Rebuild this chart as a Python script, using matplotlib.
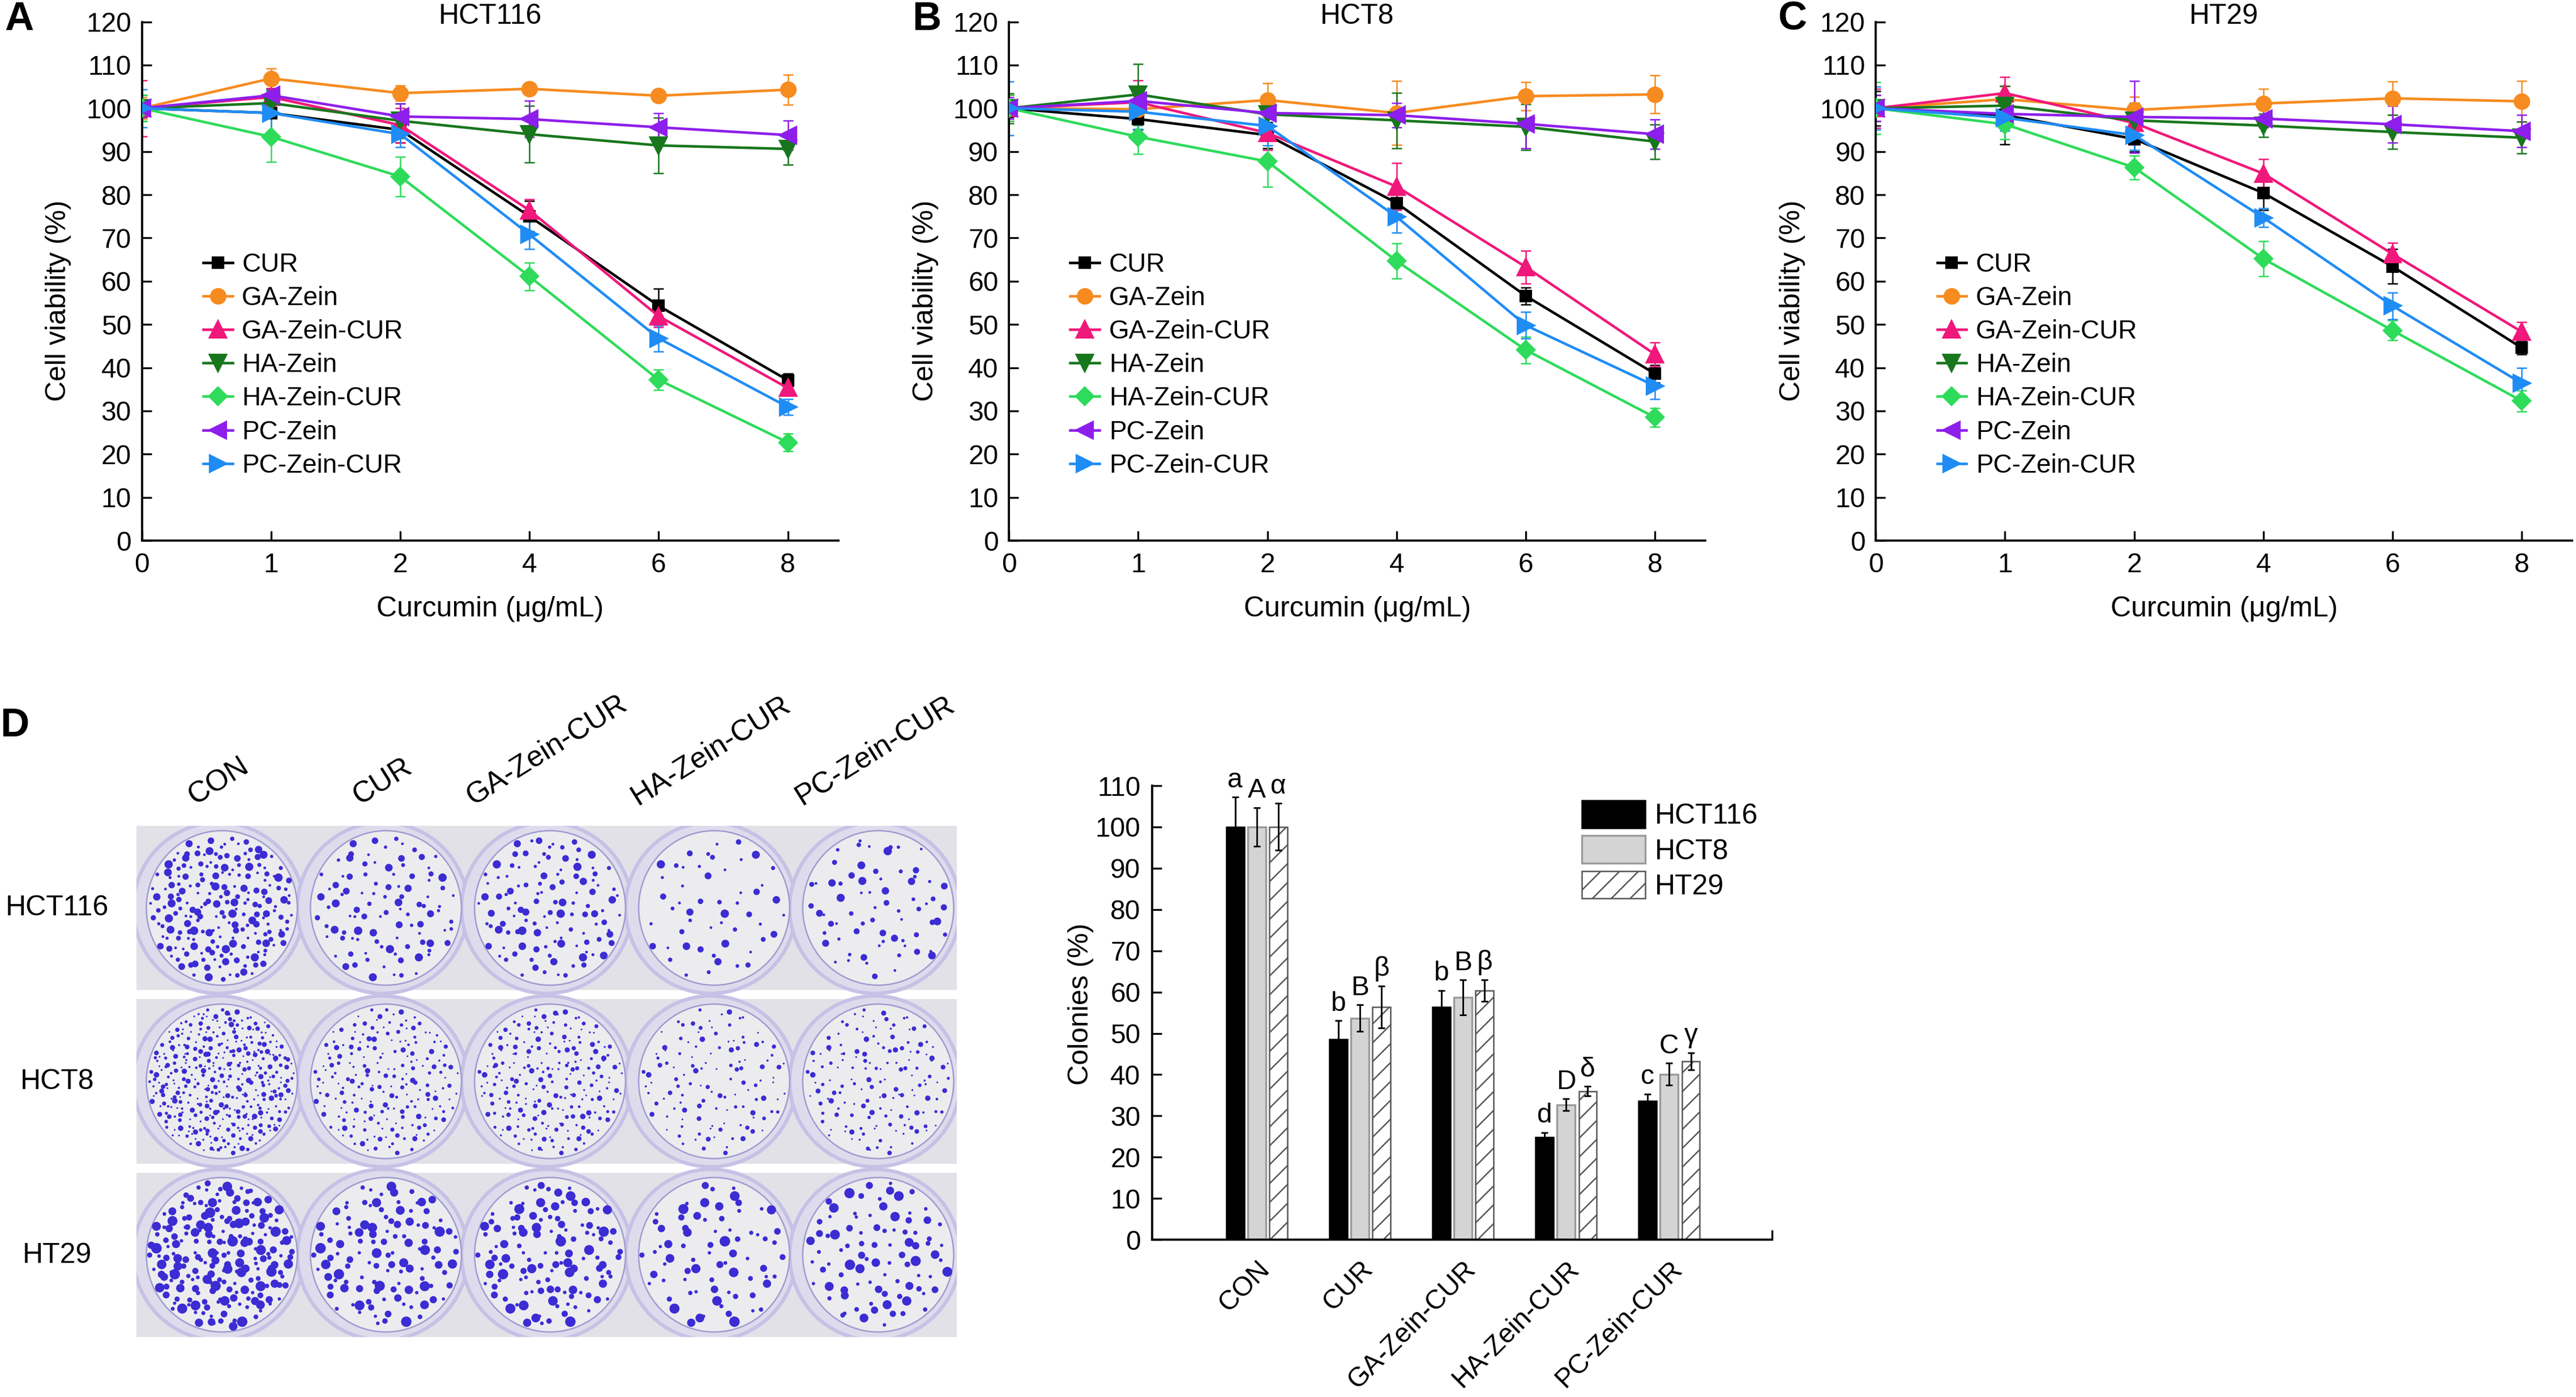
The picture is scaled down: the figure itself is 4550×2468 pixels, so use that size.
import matplotlib
matplotlib.use('Agg')
import matplotlib.pyplot as plt
import numpy as np
from matplotlib.patches import Rectangle, Ellipse
from matplotlib.transforms import ScaledTranslation

plt.rcParams['font.family'] = ['Liberation Sans', 'DejaVu Sans']
plt.rcParams['hatch.linewidth'] = 0.6

# ---- data: cell viability (panels A-C) ----
doses = ['0', '1', '2', '4', '6', '8']
series_names = ['CUR', 'GA-Zein', 'GA-Zein-CUR', 'HA-Zein', 'HA-Zein-CUR', 'PC-Zein', 'PC-Zein-CUR']
series_colors = ['#000000', '#F68B1F', '#F0187A', '#18761C', '#2EDB5A', '#8E1EEB', '#1F8CF5']
series_markers = ['s', 'o', '^', 'v', 'D', '<', '>']
series_msize = [4.5, 6.0, 6.5, 6.5, 5.0, 6.5, 6.5]

hct116_vals = [[100, 98.9, 95.0, 75.0, 54.3, 37.1],
               [100, 106.9, 103.5, 104.5, 102.9, 104.3],
               [100, 102.6, 96.1, 76.4, 51.9, 35.3],
               [100, 101.2, 97.1, 94.0, 91.4, 90.6],
               [100, 93.4, 84.2, 61.1, 37.2, 22.7],
               [100, 103.0, 98.1, 97.5, 95.6, 93.8],
               [100, 98.9, 94.0, 70.8, 46.8, 30.9]]
hct116_err = [[2.0, 1.0, 3.0, 3.5, 4.0, 1.5],
              [2.5, 2.3, 1.8, 1.3, 1.0, 3.5],
              [6.5, 2.0, 4.0, 2.5, 2.5, 1.5],
              [3.0, 3.0, 4.0, 6.5, 6.4, 3.7],
              [3.0, 5.8, 4.6, 3.2, 2.3, 2.0],
              [2.0, 1.5, 3.0, 4.2, 3.2, 3.4],
              [4.4, 5.0, 3.0, 3.3, 3.0, 1.8]]

hct8_vals = [[100, 97.5, 93.8, 78.1, 56.6, 38.6],
             [100, 99.8, 101.9, 98.9, 102.8, 103.2],
             [100, 101.4, 94.3, 81.9, 63.3, 43.1],
             [100, 103.2, 98.6, 97.2, 95.7, 92.3],
             [100, 93.4, 87.7, 64.7, 44.1, 28.5],
             [100, 101.7, 98.9, 98.4, 96.4, 94.0],
             [100, 99.2, 95.9, 74.9, 49.8, 35.8]]
hct8_err = [[2.0, 2.5, 3.0, 2.5, 2.0, 2.0],
            [3.0, 3.0, 3.9, 7.4, 3.3, 4.4],
            [3.0, 5.0, 4.0, 5.4, 3.8, 2.8],
            [3.5, 7.1, 4.0, 6.4, 5.3, 4.0],
            [3.0, 4.0, 5.9, 4.1, 3.1, 2.2],
            [2.5, 3.0, 2.5, 2.8, 5.7, 3.4],
            [6.2, 4.0, 4.5, 3.7, 3.1, 3.1]]

ht29_vals = [[100, 98.4, 92.9, 80.4, 63.4, 44.6],
             [100, 102.1, 99.6, 101.1, 102.3, 101.6],
             [100, 103.5, 96.6, 84.9, 66.3, 48.3],
             [100, 100.6, 97.2, 96.0, 94.5, 93.2],
             [100, 96.3, 86.3, 65.2, 48.6, 32.3],
             [100, 98.7, 98.0, 97.6, 96.3, 94.7],
             [100, 97.8, 93.8, 74.7, 54.3, 36.4]]
ht29_err = [[4.0, 6.7, 3.0, 3.9, 4.0, 1.5],
            [3.0, 3.0, 3.0, 3.4, 3.9, 4.7],
            [4.5, 3.8, 3.5, 3.4, 2.6, 2.3],
            [3.0, 4.5, 4.0, 2.7, 3.9, 3.7],
            [6.0, 3.4, 2.8, 4.1, 2.3, 2.4],
            [3.0, 3.0, 8.3, 2.0, 4.2, 3.7],
            [5.0, 3.0, 3.5, 2.2, 3.1, 3.6]]

# ---- data: colony formation (panel D) ----
treatments = ['CON', 'CUR', 'GA-Zein-CUR', 'HA-Zein-CUR', 'PC-Zein-CUR']
cell_lines = ['HCT116', 'HCT8', 'HT29']
colony_hct116 = [100, 48.5, 56.4, 24.9, 33.6]
colony_hct116_err = [7.2, 4.6, 4.0, 1.1, 1.7]
colony_hct8 = [100, 53.7, 58.7, 32.7, 40.1]
colony_hct8_err = [4.7, 3.2, 4.2, 1.4, 2.7]
colony_ht29 = [100, 56.4, 60.4, 36.0, 43.2]
colony_ht29_err = [5.7, 5.1, 2.6, 1.2, 2.1]
letters_hct116 = ['a', 'b', 'b', 'd', 'c']
letters_hct8 = ['A', 'B', 'B', 'D', 'C']
letters_ht29 = ['α', 'β', 'β', 'δ', 'γ']


fig = plt.figure(figsize=(4550 / 300, 2468 / 300), dpi=300)


def viability_panel(left, title, vals, errs):
    ax = fig.add_axes([left, 0.613, 0.2703, 0.3714])
    xpos = np.arange(len(doses))
    for k in range(len(series_names)):
        ax.errorbar(xpos, vals[k], yerr=errs[k], fmt='none', ecolor=series_colors[k],
                    elinewidth=0.6, capsize=2.2, capthick=0.6, zorder=2)
    for k in range(len(series_names)):
        ax.plot(xpos, vals[k], color=series_colors[k], marker=series_markers[k],
                markersize=series_msize[k], lw=1.1, label=series_names[k], zorder=3)
    ax.set_xlim(0, 5.39)
    ax.set_ylim(0, 120)
    ax.set_xticks(xpos)
    ax.set_xticklabels(doses)
    ax.set_yticks(np.arange(0, 121, 10))
    ax.tick_params(direction='in', length=4, width=0.8, labelsize=11.5)
    ax.tick_params(axis='x', pad=5)
    ax.tick_params(axis='y', pad=4.5)
    for s in ['top', 'right']:
        ax.spines[s].set_visible(False)
    for s in ['left', 'bottom']:
        ax.spines[s].set_linewidth(0.9)
    ax.set_xlabel('Curcumin (μg/mL)', fontsize=12)
    ax.xaxis.set_label_coords(0.5, -0.107)
    ax.set_ylabel('Cell viability (%)', fontsize=12)
    ax.yaxis.set_label_coords(-0.101, 0.463)
    ax.text(0.5, 1.01, title, transform=ax.transAxes, ha='center', va='center', fontsize=12)
    ax.legend(loc='center left', bbox_to_anchor=(0.088, 0.338), frameon=False, fontsize=11,
              handlelength=1.13, handletextpad=0.36, labelspacing=0.33, borderpad=0,
              borderaxespad=0)
    return ax


viability_panel(0.0551, 'HCT116', hct116_vals, hct116_err)
viability_panel(0.3917, 'HCT8', hct8_vals, hct8_err)
viability_panel(0.7282, 'HT29', ht29_vals, ht29_err)

for lab, xx, yy in [('A', 0.0075, 0.986), ('B', 0.3598, 0.986), ('C', 0.6958, 0.986), ('D', 0.0057, 0.48)]:
    fig.text(xx, yy, lab, fontsize=17, fontweight='bold', ha='center', va='center')


# ---- colony dishes: drawn stand-in for the photos, colony count follows the bar values ----
def halton(n, base, start):
    out = np.zeros(n)
    for j in range(n):
        k = j + start
        f = 1.0
        v = 0.0
        while k > 0:
            f /= base
            v += f * (k % base)
            k //= base
        out[j] = v
    return out


colony_rows = [colony_hct116, colony_hct8, colony_ht29]
base_count = [210, 380, 210]
max_size = [13, 5.5, 20]
gap = 0.055
ax_ph = fig.add_axes([0.053, 0.043, 0.3185, 0.3659])
ax_ph.set_xlim(0, 5)
ax_ph.set_ylim(0, 3 + 2 * gap)
ax_ph.axis('off')
for r in range(3):
    y0 = (2 - r) * (1 + gap)
    for c in range(5):
        cell = Rectangle((c, y0), 1, 1, fc='#e2e1e8', ec='none', zorder=1)
        ax_ph.add_patch(cell)
        ax_ph.add_patch(Ellipse((c + 0.5, y0 + 0.5), 1.04, 1.04, fc='#dedbec', ec='#c6c1e5',
                                lw=1.5, zorder=2, clip_path=cell))
        ax_ph.add_patch(Ellipse((c + 0.52, y0 + 0.5), 0.92, 0.94, fc='#ececef', ec='#a09ad0',
                                lw=0.6, zorder=3, clip_path=cell))
        n = int(base_count[r] * colony_rows[r][c] / 100)
        st = 17 + 53 * c + 211 * r
        u = halton(n, 2, st)
        v = halton(n, 3, st)
        w = halton(n, 5, st)
        rr = 0.445 * np.sqrt(u)
        th = 2 * np.pi * v
        px = c + 0.52 + rr * np.cos(th)
        py = y0 + 0.5 + rr * np.sin(th)
        sz = max_size[r] * (0.1 + 0.9 * w ** 2.5)
        sc = ax_ph.scatter(px, py, s=sz, c='#3c2cd3', edgecolors='none', zorder=4)
        sc.set_clip_path(cell)

for c, name in enumerate(treatments):
    fig.text((241 + 290 * (c + 0.5)) / 4550, 1 - 1432 / 2468, name, rotation=32,
             ha='center', va='bottom', fontsize=12.5)
for r, name in enumerate(cell_lines):
    yc = 1459 + 145 + r * 307
    fig.text(101 / 4550, 1 - yc / 2468, name, ha='center', va='center', fontsize=12)

# ---- colony bar chart ----
ax_b = fig.add_axes([0.4473, 0.1126, 0.2407, 0.325])
xg = np.arange(len(treatments))
w = 0.175
b1 = ax_b.bar(xg - 0.21, colony_hct116, w, color='black', edgecolor='black', lw=0.6, label='HCT116')
b2 = ax_b.bar(xg, colony_hct8, w, color='#d4d4d4', edgecolor='#9a9a9a', lw=0.8, label='HCT8')
b3 = ax_b.bar(xg + 0.21, colony_ht29, w, color='white', edgecolor='#555555', lw=0.6,
              hatch='///', label='HT29')
for off, vals, errs, lets in [(-0.21, colony_hct116, colony_hct116_err, letters_hct116),
                              (0.0, colony_hct8, colony_hct8_err, letters_hct8),
                              (0.21, colony_ht29, colony_ht29_err, letters_ht29)]:
    ax_b.errorbar(xg + off, vals, yerr=errs, fmt='none', ecolor='black', elinewidth=0.7,
                  capsize=1.5, capthick=0.7)
    for xi, v, e, t in zip(xg + off, vals, errs, lets):
        ax_b.text(xi, v + e + 1.0, t, ha='center', va='bottom', fontsize=11.5, clip_on=False)
ax_b.set_xlim(-1.015, 5.0)
ax_b.set_ylim(0, 110)
ax_b.set_yticks(np.arange(0, 111, 10))
ax_b.set_xticks(xg)
ax_b.set_xticklabels(treatments, rotation=45, ha='right', rotation_mode='anchor', fontsize=11.5)
for lab in ax_b.get_xticklabels():
    lab.set_transform(lab.get_transform() + ScaledTranslation(4 / 72, 0, fig.dpi_scale_trans))
ax_b.tick_params(axis='x', length=0, pad=7)
ax_b.set_xticks([5.0], minor=True)
ax_b.tick_params(axis='x', which='minor', direction='in', length=4, width=0.8)
ax_b.tick_params(axis='y', direction='in', length=4, width=0.8, labelsize=11.5, pad=5)
for s in ['top', 'right']:
    ax_b.spines[s].set_visible(False)
for s in ['left', 'bottom']:
    ax_b.spines[s].set_linewidth(0.9)
ax_b.set_ylabel('Colonies (%)', fontsize=12)
ax_b.yaxis.set_label_coords(-0.094, 0.519)
ax_b.legend(handles=[b1, b2, b3], loc='upper left', bbox_to_anchor=(0.693, 0.9676),
            frameon=False, fontsize=12, handlelength=2.24, handleheight=1.12,
            handletextpad=0.34, labelspacing=0.22, borderpad=0, borderaxespad=0)

fig.savefig('out.png', dpi=300)
